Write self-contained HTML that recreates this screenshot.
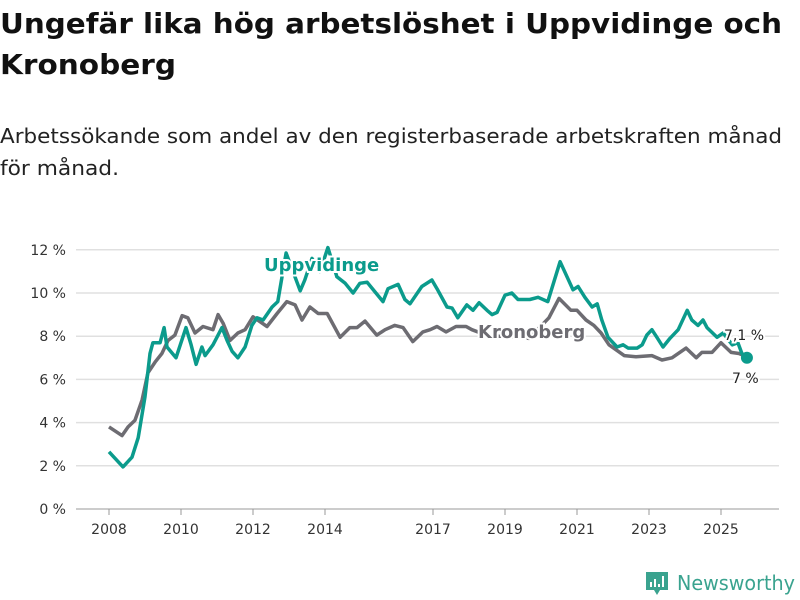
<!DOCTYPE html>
<html><head><meta charset="utf-8"><style>
html,body{margin:0;padding:0;background:#fff;}
svg{display:block;font-family:"DejaVu Sans","Liberation Sans",sans-serif;}
</style></head><body>
<svg id="chart" width="800" height="600" viewBox="0 0 800 600">
<text x="0" y="33" font-size="28" font-weight="bold" fill="#111" textLength="782" lengthAdjust="spacingAndGlyphs">Ungefär lika hög arbetslöshet i Uppvidinge och</text>
<text x="0" y="74" font-size="28" font-weight="bold" fill="#111" textLength="176" lengthAdjust="spacingAndGlyphs">Kronoberg</text>
<text x="0" y="143" font-size="20" fill="#222" textLength="782" lengthAdjust="spacingAndGlyphs">Arbetssökande som andel av den registerbaserade arbetskraften månad</text>
<text x="0" y="175" font-size="20" fill="#222" textLength="119" lengthAdjust="spacingAndGlyphs">för månad.</text>
<g id="grid"></g><g id="yticks"></g><g id="xticks"></g><g id="lines"></g><g id="labels"></g>
<g>
<path d="M646 572 h22 v18 h-8 l-3 5 l-3 -5 h-8 z" fill="#3aa38f"/>
<rect x="650" y="582" width="2" height="5" fill="#fff"/><rect x="654" y="579" width="2" height="8" fill="#fff"/><rect x="658" y="584" width="2" height="3" fill="#fff"/><rect x="662" y="576" width="2" height="11" fill="#fff"/>
<text x="677" y="590" font-size="20" fill="#3aa38f" textLength="118" lengthAdjust="spacingAndGlyphs">Newsworthy</text>
</g>
</svg>
<script>
const yTickValues=[0,2,4,6,8,10,12];
const xTickYears=[2008,2010,2012,2014,2017,2019,2021,2023,2025];
const uppYears=[2008,2008.39,2008.64,2008.81,2009,2009.14,2009.22,2009.42,2009.53,2009.61,2009.86,2010.14,2010.28,2010.42,2010.58,2010.67,2010.89,2011.14,2011.28,2011.42,2011.58,2011.78,2011.97,2012.11,2012.28,2012.53,2012.69,2012.78,2012.92,2013.31,2013.44,2013.64,2013.86,2014.08,2014.33,2014.56,2014.78,2014.97,2015.17,2015.39,2015.61,2015.75,2016.03,2016.22,2016.36,2016.69,2016.97,2017.11,2017.39,2017.53,2017.69,2017.94,2018.11,2018.28,2018.5,2018.64,2018.78,2019,2019.19,2019.36,2019.69,2019.92,2020.19,2020.53,2020.89,2021.03,2021.22,2021.42,2021.56,2021.69,2021.86,2022.11,2022.28,2022.42,2022.67,2022.81,2022.94,2023.08,2023.22,2023.39,2023.58,2023.81,2024.06,2024.19,2024.36,2024.5,2024.61,2024.89,2025.06,2025.31,2025.47,2025.58,2025.72];
const uppValues=[2.65,1.95,2.4,3.3,5.2,7.2,7.7,7.7,8.4,7.5,7.0,8.4,7.6,6.7,7.5,7.1,7.6,8.4,7.8,7.3,7.0,7.5,8.5,8.85,8.75,9.35,9.6,10.5,11.85,10.1,10.6,11.6,11.0,12.1,10.75,10.45,10.0,10.45,10.5,10.05,9.6,10.2,10.4,9.7,9.5,10.3,10.6,10.2,9.35,9.3,8.85,9.45,9.2,9.55,9.2,9.0,9.1,9.9,10.0,9.7,9.7,9.8,9.6,11.45,10.15,10.3,9.8,9.35,9.5,8.75,7.95,7.5,7.6,7.45,7.45,7.6,8.05,8.3,7.95,7.5,7.9,8.3,9.2,8.75,8.5,8.75,8.4,7.95,8.15,7.6,7.7,7.2,7.0];
const kroYears=[2008,2008.36,2008.53,2008.72,2008.92,2009.08,2009.28,2009.47,2009.64,2009.83,2010.03,2010.19,2010.39,2010.61,2010.89,2011.03,2011.17,2011.36,2011.58,2011.78,2012,2012.39,2012.67,2012.94,2013.17,2013.36,2013.58,2013.81,2014.06,2014.42,2014.69,2014.89,2015.11,2015.44,2015.67,2015.94,2016.17,2016.44,2016.72,2016.92,2017.11,2017.36,2017.64,2017.92,2018.08,2018.56,2019.11,2019.67,2020.22,2020.5,2020.83,2021,2021.25,2021.47,2021.67,2021.89,2022.31,2022.64,2023.08,2023.36,2023.64,2024.03,2024.31,2024.47,2024.75,2025,2025.28,2025.5,2025.64];
const kroValues=[3.8,3.4,3.8,4.1,5.05,6.3,6.8,7.2,7.8,8.05,8.95,8.85,8.15,8.45,8.3,9.0,8.6,7.8,8.15,8.3,8.9,8.45,9.05,9.6,9.45,8.75,9.35,9.05,9.05,7.95,8.4,8.4,8.7,8.05,8.3,8.5,8.4,7.75,8.2,8.3,8.45,8.2,8.45,8.45,8.3,8.0,8.0,7.9,8.85,9.75,9.2,9.2,8.75,8.5,8.15,7.6,7.1,7.05,7.1,6.9,7.0,7.45,7.0,7.25,7.25,7.7,7.25,7.2,7.1];
const NS='http://www.w3.org/2000/svg';
const xs=y=>109+(y-2008)*36;
const ys=v=>509-v*21.6;
function mk(tag,attrs,parent){const e=document.createElementNS(NS,tag);for(const k in attrs)e.setAttribute(k,attrs[k]);document.getElementById(parent).appendChild(e);return e;}
yTickValues.forEach(v=>{
  const l=mk('line',{x1:76,x2:779,y1:ys(v),y2:ys(v),stroke:v===0?'#bbb':'#e0e0e0','stroke-width':1.5},'grid');
  
  
  const t=mk('text',{x:66,y:ys(v)+5,'font-size':14,fill:'#333','text-anchor':'end'},'yticks');
  t.textContent=v+' %';
  
  
});
xTickYears.forEach(y=>{
  const l=mk('line',{x1:xs(y),x2:xs(y),y1:509,y2:515,stroke:'#999','stroke-width':1},'xticks');
  
  
  const t=mk('text',{x:xs(y),y:534,'font-size':14,fill:'#333','text-anchor':'middle'},'xticks');
  t.textContent=y;
  
  
});
function path(yr,vals){return yr.map((y,i)=>(i?'L':'M')+xs(y).toFixed(1)+' '+ys(vals[i]).toFixed(1)).join(' ');}
const kp=mk('path',{d:path(kroYears,kroValues),fill:'none',stroke:'#6d6c72','stroke-width':3.5,'stroke-linejoin':'round'},'lines');


const up=mk('path',{d:path(uppYears,uppValues),fill:'none',stroke:'#0b9b8c','stroke-width':3.5,'stroke-linejoin':'round'},'lines');


const dot=mk('circle',{cx:xs(uppYears[uppYears.length-1]),cy:ys(uppValues[uppValues.length-1]),r:6,fill:'#0b9b8c'},'lines');


function lab(x,y,txt,col,size,bold,name,anchor){
  const t=mk('text',{x:x,y:y,'font-size':size,fill:col,'font-weight':bold?'bold':'normal',stroke:'#fff','stroke-width':4,'paint-order':'stroke','text-anchor':anchor||'start'},'labels');
  t.textContent=txt;
  
  
}
lab(264,271,'Uppvidinge','#0b9b8c',18,true,'uppvidinge-label');
lab(478,338,'Kronoberg','#6d6c72',18,true,'kronoberg-label');
lab(724,340,'7,1 %','#222',14,false,'kronoberg-end-value');
lab(732,383,'7 %','#222',14,false,'uppvidinge-end-value');
</script>
</body></html>
